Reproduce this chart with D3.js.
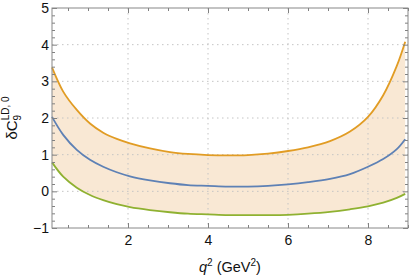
<!DOCTYPE html>
<html>
<head>
<meta charset="utf-8">
<script src="https://cdn.jsdelivr.net/npm/d3@7"></script>
<style>
  body { margin: 0; background: #fff; }
  text { font-family: "Liberation Sans", Arial, sans-serif; }
</style>
</head>
<body>
<script>
// values
var qVals   = [0.1, 0.38, 0.72, 1.05, 1.38, 1.72, 2.05, 2.55, 3.05, 3.5, 4, 4.5, 5, 5.5, 6, 6.5, 7.05, 7.55, 8, 8.38, 8.72, 8.93];
var upper   = [3.38, 2.72, 2.22, 1.85, 1.6, 1.43, 1.31, 1.17, 1.07, 1.02, 0.99, 0.98, 0.99, 1.03, 1.1, 1.2, 1.37, 1.63, 2.03, 2.62, 3.42, 4.08];
var central = [2.03, 1.54, 1.13, 0.86, 0.67, 0.52, 0.41, 0.3, 0.22, 0.17, 0.15, 0.13, 0.13, 0.15, 0.19, 0.25, 0.34, 0.47, 0.67, 0.88, 1.15, 1.42];
var lower   = [0.79, 0.4, 0.1, -0.1, -0.24, -0.35, -0.43, -0.51, -0.57, -0.61, -0.63, -0.65, -0.65, -0.65, -0.64, -0.61, -0.56, -0.49, -0.41, -0.31, -0.18, -0.07];
var xTicks = [2, 4, 6, 8];
var yTicks = [-1, 0, 1, 2, 3, 4, 5];

var W = 409, H = 277;
var margin = {top: 8, right: 1, bottom: 49, left: 52};

var svg = d3.select("body").append("svg")
  .attr("width", W)
  .attr("height", H);

var x = d3.scaleLinear().domain([0.1, 9.0]).range([margin.left, W - margin.right]);
var y = d3.scaleLinear().domain([-1, 5]).range([H - margin.bottom, margin.top]);

var rows = qVals.map(function(q, i) {
  return {q: q, hi: upper[i], mid: central[i], lo: lower[i]};
});

var smooth = d3.curveCatmullRom.alpha(0.5);

// band between upper and lower curve
svg.append("path")
  .datum(rows)
  .attr("fill", "#f9e8d4")
  .attr("d", d3.area()
    .curve(smooth)
    .x(function(d) { return x(d.q); })
    .y0(function(d) { return y(d.lo); })
    .y1(function(d) { return y(d.hi); }));

// dotted grid lines
var grid = svg.append("g").attr("stroke", "#c4c4c4").attr("stroke-dasharray", "1.5,3.5");
grid.selectAll(".gx").data(xTicks).enter().append("line")
  .attr("x1", function(d) { return x(d); }).attr("x2", function(d) { return x(d); })
  .attr("y1", y(5)).attr("y2", y(-1));
grid.selectAll(".gy").data(yTicks.slice(1, -1)).enter().append("line")
  .attr("y1", function(d) { return y(d); }).attr("y2", function(d) { return y(d); })
  .attr("x1", x(0.1)).attr("x2", x(9.0));

// curves
var series = [
  {key: "hi", color: "#e19c24"},
  {key: "mid", color: "#5e81b5"},
  {key: "lo", color: "#8fb131"}
];
series.forEach(function(s) {
  svg.append("path")
    .datum(rows)
    .attr("fill", "none")
    .attr("stroke", s.color)
    .attr("stroke-width", 1.8)
    .attr("d", d3.line()
      .curve(smooth)
      .x(function(d) { return x(d.q); })
      .y(function(d) { return y(d[s.key]); }));
});

// frame axes, ticks pointing inwards, labels only bottom and left
var xMinor = d3.range(0.5, 9.01, 0.5).filter(function(v) { return xTicks.indexOf(v) < 0; });
var yMinor = d3.range(-1, 5.001, 0.2).map(function(v) { return Math.round(v * 10) / 10; })
  .filter(function(v) { return Math.abs(v - Math.round(v)) > 0.01; });

function styleAxis(g) {
  g.select(".domain").remove();
  g.selectAll("line").attr("stroke", "#808080");
  g.selectAll("text").attr("fill", "#111").style("font-size", "14px");
}

var axes = [
  {axis: d3.axisBottom, tr: "translate(0," + y(-1) + ")", sc: x, major: xTicks, minor: xMinor, labels: true, pad: 7},
  {axis: d3.axisTop, tr: "translate(0," + y(5) + ")", sc: x, major: xTicks, minor: xMinor, labels: false, pad: 0},
  {axis: d3.axisLeft, tr: "translate(" + x(0.1) + ",0)", sc: y, major: yTicks, minor: yMinor, labels: true, pad: 3},
  {axis: d3.axisRight, tr: "translate(" + x(9.0) + ",0)", sc: y, major: yTicks, minor: yMinor, labels: false, pad: 0}
];
axes.forEach(function(a) {
  svg.append("g").attr("transform", a.tr)
    .call(a.axis(a.sc).tickValues(a.minor).tickSize(-3).tickFormat(""))
    .call(styleAxis);
  svg.append("g").attr("transform", a.tr)
    .call(a.axis(a.sc).tickValues(a.major).tickSize(-5)
      .tickPadding(a.pad)
      .tickFormat(a.labels ? function(d) { return d < 0 ? "\u2212" + (-d) : d; } : ""))
    .call(styleAxis);
});

svg.append("rect")
  .attr("x", x(0.1)).attr("y", y(5))
  .attr("width", x(9.0) - x(0.1)).attr("height", y(-1) - y(5))
  .attr("fill", "none").attr("stroke", "#888").attr("stroke-width", 1);

// x axis title
var xt = svg.append("text")
  .attr("x", (x(0.1) + x(9.0)) / 2).attr("y", 272)
  .attr("text-anchor", "middle")
  .attr("fill", "#111")
  .style("font-size", "14.5px");
xt.append("tspan").style("font-style", "italic").text("q");
xt.append("tspan").attr("dy", -6).style("font-size", "10px").text("2");
xt.append("tspan").attr("dy", 6).text(" (GeV");
xt.append("tspan").attr("dy", -6).style("font-size", "10px").text("2");
xt.append("tspan").attr("dy", 6).text(")");

// y axis title
var yt = svg.append("text")
  .attr("transform", "translate(17," + ((y(5) + y(-1)) / 2) + ") rotate(-90)")
  .attr("text-anchor", "middle")
  .attr("fill", "#111")
  .style("font-size", "15px");
yt.append("tspan").text("\u03b4C");
yt.append("tspan").attr("dy", 4).style("font-size", "10px").text("9");
yt.append("tspan").attr("dy", -12).attr("dx", -5.5).style("font-size", "10px").text("LD, 0");
</script>
</body>
</html>
